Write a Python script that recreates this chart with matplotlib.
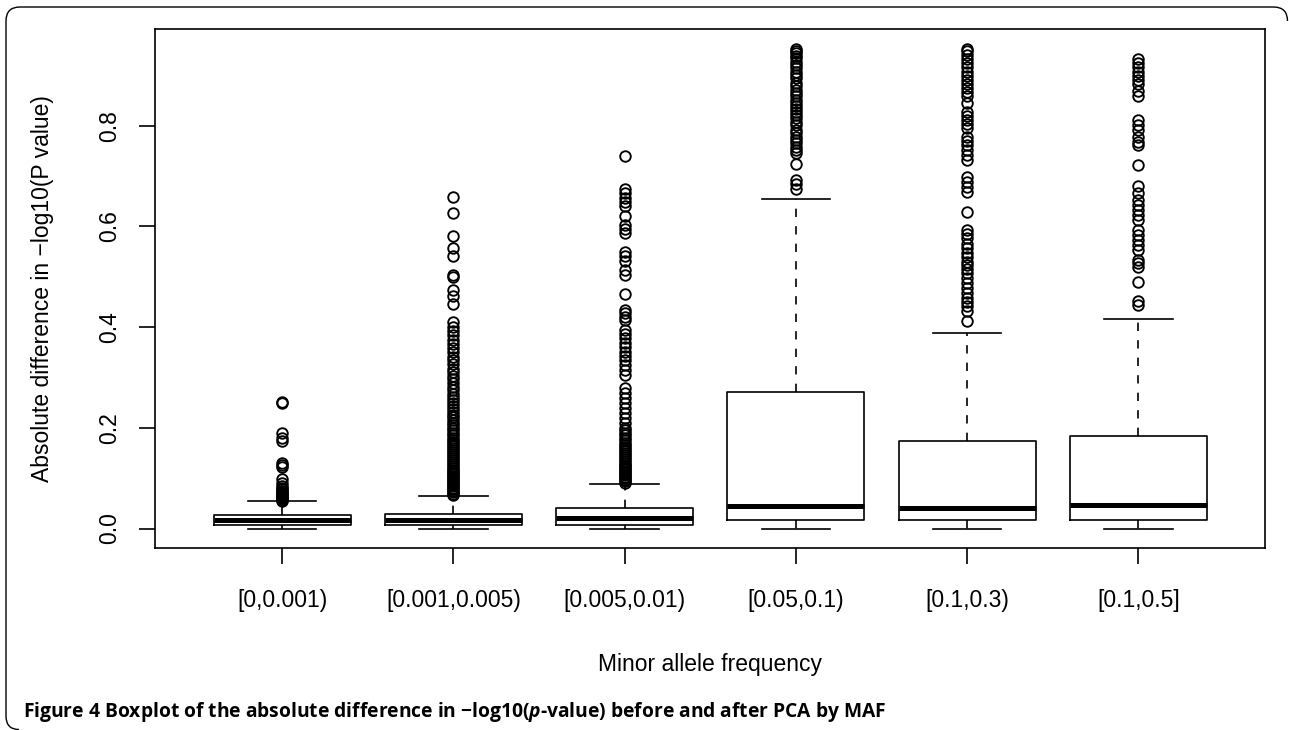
import matplotlib
matplotlib.use("Agg")
import matplotlib.pyplot as plt
from matplotlib.patches import PathPatch
from matplotlib.path import Path

# --- data ---
labels = ["[0,0.001)", "[0.001,0.005)", "[0.005,0.01)", "[0.05,0.1)", "[0.1,0.3)", "[0.1,0.5]"]
q1 = [0.007, 0.007, 0.007, 0.017, 0.016, 0.017]
medians = [0.016, 0.017, 0.020, 0.045, 0.041, 0.047]
q3 = [0.026, 0.028, 0.040, 0.272, 0.173, 0.184]
whis_lo = [0.0, 0.0, 0.0, 0.0, 0.0, 0.0]
whis_hi = [0.054, 0.064, 0.089, 0.654, 0.389, 0.417]

out_1 = [0.055, 0.057, 0.059, 0.061, 0.063, 0.065, 0.067, 0.069, 0.071, 0.073,
         0.075, 0.078, 0.081, 0.084, 0.090, 0.098, 0.122, 0.127, 0.131, 0.174,
         0.180, 0.189, 0.250, 0.252]
out_2 = [0.066, 0.069, 0.072, 0.075, 0.078, 0.081, 0.084, 0.087, 0.090, 0.093,
         0.096, 0.099, 0.102, 0.105, 0.108, 0.111, 0.114, 0.117, 0.120, 0.124,
         0.128, 0.132, 0.136, 0.140, 0.144, 0.148, 0.152, 0.156, 0.160, 0.164,
         0.168, 0.172, 0.176, 0.180, 0.185, 0.190, 0.195, 0.200, 0.205, 0.210,
         0.215, 0.221, 0.226, 0.232, 0.238, 0.243, 0.250, 0.256, 0.262, 0.268,
         0.275, 0.281, 0.289, 0.296, 0.303, 0.311, 0.317, 0.326, 0.334, 0.341,
         0.350, 0.358, 0.366, 0.375, 0.384, 0.392, 0.401, 0.411, 0.446, 0.461,
         0.474, 0.499, 0.504, 0.541, 0.557, 0.580, 0.627, 0.658]
out_3 = [0.091, 0.094, 0.097, 0.100, 0.103, 0.106, 0.109, 0.112, 0.115, 0.118,
         0.121, 0.124, 0.127, 0.130, 0.134, 0.138, 0.142, 0.146, 0.150, 0.154,
         0.158, 0.162, 0.166, 0.170, 0.175, 0.180, 0.185, 0.190, 0.195, 0.200,
         0.209, 0.219, 0.229, 0.239, 0.249, 0.259, 0.269, 0.279, 0.305, 0.315,
         0.325, 0.335, 0.343, 0.351, 0.360, 0.368, 0.378, 0.387, 0.394, 0.414,
         0.421, 0.428, 0.434, 0.466, 0.504, 0.514, 0.532, 0.541, 0.550, 0.586,
         0.594, 0.603, 0.621, 0.641, 0.649, 0.657, 0.666, 0.674, 0.740]
out_4 = [0.674, 0.684, 0.692, 0.723, 0.745, 0.752, 0.758, 0.765, 0.772, 0.778,
         0.785, 0.792, 0.801, 0.808, 0.815, 0.821, 0.828, 0.833, 0.839, 0.846,
         0.851, 0.858, 0.864, 0.871, 0.878, 0.884, 0.894, 0.901, 0.907, 0.914,
         0.921, 0.927, 0.934, 0.938, 0.944, 0.949, 0.953]
out_5 = [0.413, 0.431, 0.441, 0.449, 0.457, 0.467, 0.477, 0.487, 0.497, 0.507,
         0.515, 0.523, 0.530, 0.540, 0.548, 0.557, 0.566, 0.576, 0.585, 0.593,
         0.629, 0.669, 0.679, 0.689, 0.699, 0.732, 0.742, 0.752, 0.762, 0.770,
         0.778, 0.795, 0.803, 0.811, 0.819, 0.828, 0.846, 0.858, 0.866, 0.874,
         0.883, 0.891, 0.899, 0.907, 0.916, 0.924, 0.932, 0.940, 0.949, 0.953]
out_6 = [0.444, 0.451, 0.489, 0.519, 0.527, 0.534, 0.553, 0.563, 0.573, 0.583,
         0.593, 0.613, 0.623, 0.633, 0.643, 0.653, 0.666, 0.680, 0.722, 0.762,
         0.768, 0.778, 0.792, 0.801, 0.811, 0.859, 0.868, 0.883, 0.891, 0.899,
         0.907, 0.916, 0.924, 0.932]
outliers = [out_1, out_2, out_3, out_4, out_5, out_6]

plt.rcParams["font.family"] = ["Liberation Sans", "DejaVu Sans"]
plt.rcParams["mathtext.fontset"] = "custom"
plt.rcParams["mathtext.it"] = "Open Sans:italic:bold"
plt.rcParams["mathtext.rm"] = "Open Sans:bold"

W, H = 1289, 730
fig = plt.figure(figsize=(W / 100, H / 100), dpi=100)
ax = fig.add_axes([155.4 / W, 1 - 547.7 / H, (1265 - 155.4) / W, (547.7 - 29.3) / H])

stats = []
for i in range(len(labels)):
    stats.append({"q1": q1[i], "med": medians[i], "q3": q3[i],
                  "whislo": whis_lo[i], "whishi": whis_hi[i],
                  "fliers": outliers[i], "label": labels[i]})

ax.bxp(stats, positions=range(1, 7), widths=0.8, capwidths=0.4,
       boxprops=dict(color="black", linewidth=1.2),
       medianprops=dict(color="black", linewidth=3.6, solid_capstyle="butt"),
       whiskerprops=dict(color="black", linewidth=1.2, linestyle=(0, (5, 5.5))),
       capprops=dict(color="black", linewidth=1.2),
       flierprops=dict(marker="o", markerfacecolor="none", markeredgecolor="black",
                       markersize=7.6, markeredgewidth=1.35, linestyle="none"))

ax.set_xlim(0.26, 6.74)
ax.set_ylim(-0.0381, 0.9914)
ax.set_yticks([0.0, 0.2, 0.4, 0.6, 0.8])
ax.set_yticklabels(["0.0", "0.2", "0.4", "0.6", "0.8"], rotation=90, va="center")
ax.set_xticks(range(1, 7))
ax.set_xticklabels(labels)
ax.tick_params(axis="both", length=11.5, width=1.2, labelsize=16.5, color="black")
ax.tick_params(axis="x", pad=18)
ax.tick_params(axis="y", pad=13)
for sp in ax.spines.values():
    sp.set_linewidth(1.2)

fig.text(710 / W, 1 - 664 / H, "Minor allele frequency", ha="center", va="center", fontsize=16.5)
fig.text(43 / W, 1 - 288.5 / H, "Absolute difference in \u2212log10(P value)", ha="center",
         va="center", rotation=90, fontsize=16.5)

fig.text(23 / W, 1 - 712 / H,
         "Figure 4 Boxplot of the absolute difference in \u2212log10($p$-value) before and after PCA by MAF",
         ha="left", va="center", fontsize=13.9, fontweight="bold", family="Open Sans")

# open panel frame: top edge with both rounded top corners, left edge, bottom-left corner
def px(x, y):
    return (x, H - y)

verts = [px(1287.5, 21), px(1287.5, 7), px(1273.5, 7), px(20, 7), px(6, 7), px(6, 21),
         px(6, 716), px(6, 729.5), px(19, 729.5)]
codes = [Path.MOVETO, Path.CURVE3, Path.CURVE3, Path.LINETO, Path.CURVE3, Path.CURVE3,
         Path.LINETO, Path.CURVE3, Path.CURVE3]
frame = PathPatch(Path(verts, codes), transform=None, fill=False,
                  edgecolor="black", linewidth=1.0)
fig.patches.append(frame)

fig.savefig("out.png", dpi=100)
